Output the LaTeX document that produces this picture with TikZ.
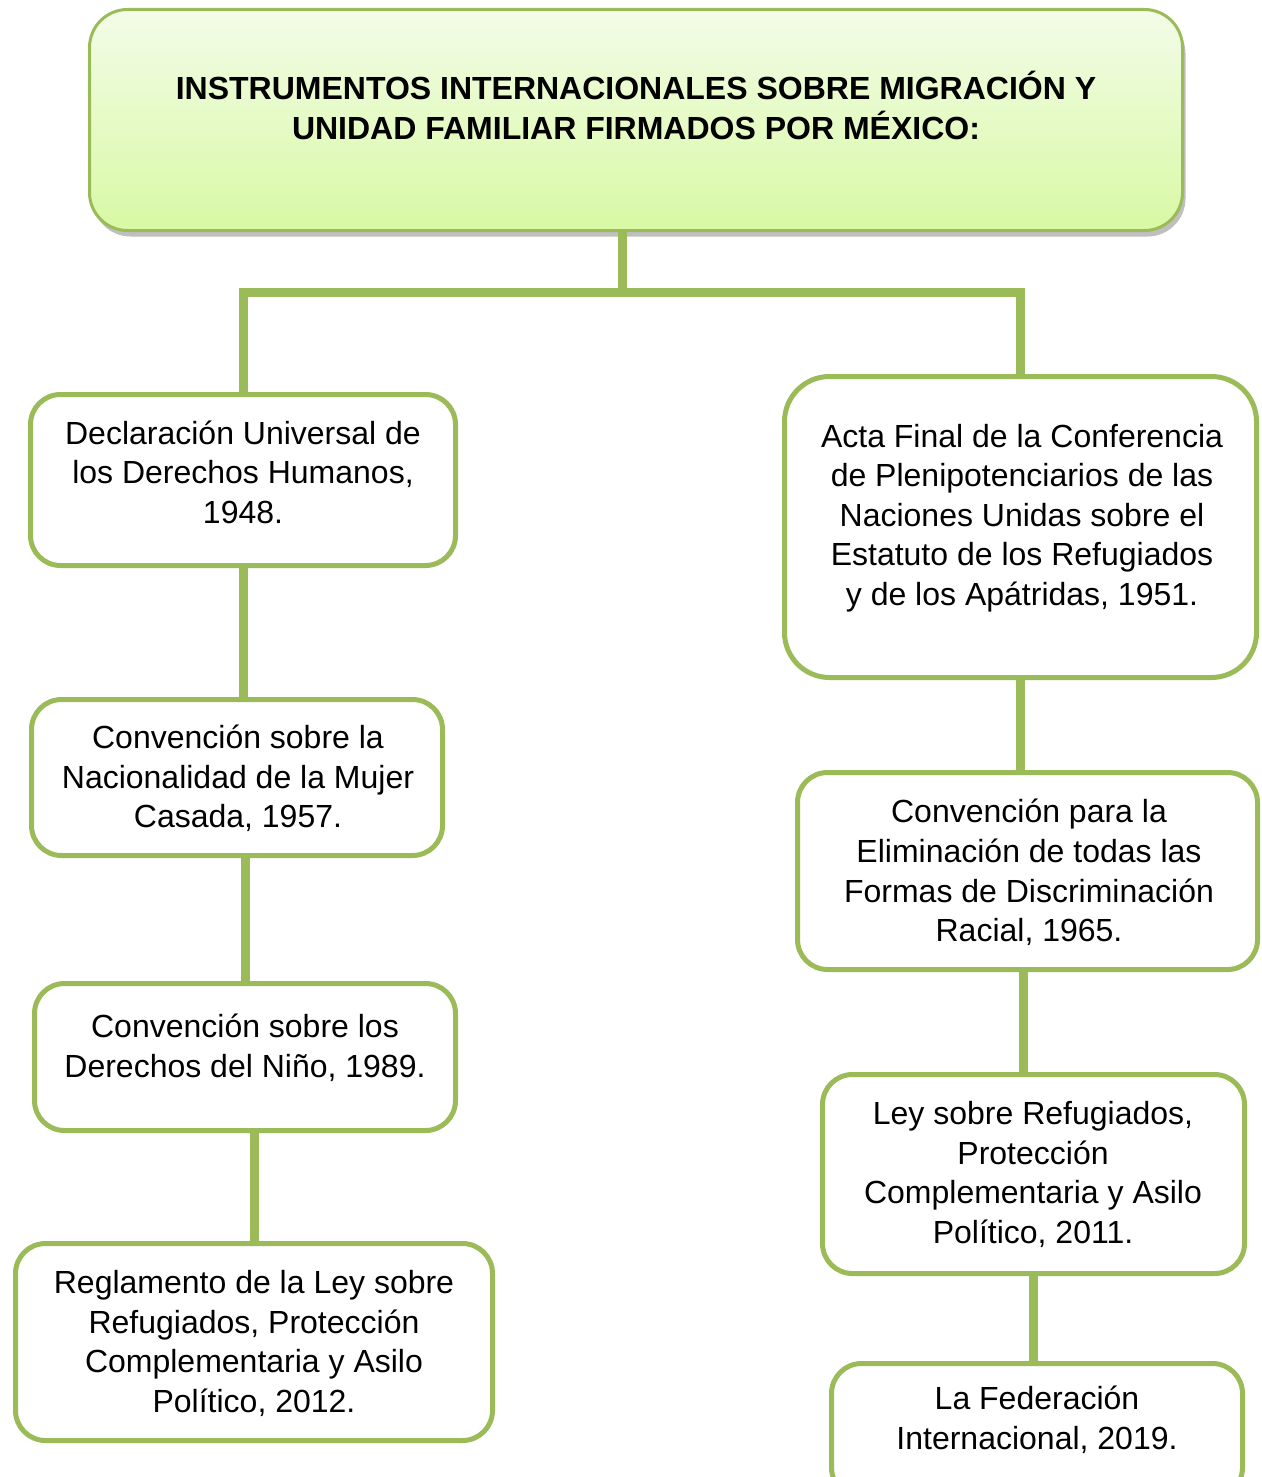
\documentclass[tikz,border=0pt]{standalone}
\usepackage{fontspec}
\setmainfont{Liberation Sans}
\usetikzlibrary{shadows,calc}
\definecolor{gline}{HTML}{9BBB59}
\definecolor{gtop}{HTML}{F3FCE8}
\definecolor{gbot}{HTML}{D8F9A4}
\tikzset{
  box/.style={draw=gline, line width=5pt, rounded corners=30pt, fill=white, inner sep=0pt},
  topbox/.style={draw=gline, line width=3pt, rounded corners=38pt, top color=gtop, bottom color=gbot,
    drop shadow={shadow xshift=3pt, shadow yshift=-6pt, opacity=0.25, fill=black}, inner sep=0pt},
  txt/.style={align=center, font=\fontsize{32}{39.6}\selectfont, inner sep=0pt},
  conn/.style={draw=gline, line width=9pt},
  connshadow/.style={draw=black, opacity=0.15, line width=9pt}
}
\begin{document}
\begin{tikzpicture}[x=1pt,y=-1pt]
\useasboundingbox (0,0) rectangle (1261,1477);
% top box
\node[topbox, minimum width=1093pt, minimum height=221pt] (top) at (636,120) {};
\node[txt, font=\fontsize{32}{40}\selectfont\bfseries] (toptxt) at (636,105.5) {INSTRUMENTOS INTERNACIONALES SOBRE MIGRACIÓN Y\\UNIDAD FAMILIAR FIRMADOS POR MÉXICO:};
% junction
\coordinate (j) at (622,292);
% boxes left
\node[box, minimum width=425pt, minimum height=171pt] (l1) at (243,480) {};
\node[txt] (l1t) at (243,472) {Declaración Universal de\\los Derechos Humanos,\\1948.};
\node[box, minimum width=411pt, minimum height=156pt] (l2) at (237,777.5) {};
\node[txt] (l2t) at (238,778.5) {Convención sobre la\\Nacionalidad de la Mujer\\Casada, 1957.};
\node[box, minimum width=421pt, minimum height=147pt] (l3) at (245,1057) {};
\node[txt] (l3t) at (245,1048) {Convención sobre los\\Derechos del Niño, 1989.};
\node[box, minimum width=477pt, minimum height=197pt] (l4) at (254,1342) {};
\node[txt] (l4t) at (254,1343.5) {Reglamento de la Ley sobre\\Refugiados, Protección\\Complementaria y Asilo\\Político, 2012.};
% boxes right
\node[box, rounded corners=45pt, minimum width=472pt, minimum height=301pt] (r1) at (1020.5,527) {};
\node[txt] (r1t) at (1022,518) {Acta Final de la Conferencia\\de Plenipotenciarios de las\\Naciones Unidas sobre el\\Estatuto de los Refugiados\\y de los Apátridas, 1951.};
\node[box, minimum width=460pt, minimum height=197pt] (r2) at (1027.5,871) {};
\node[txt] (r2t) at (1029,872.5) {Convención para la\\Eliminación de todas las\\Formas de Discriminación\\Racial, 1965.};
\node[box, minimum width=422pt, minimum height=199pt] (r3) at (1033.5,1174) {};
\node[txt] (r3t) at (1033,1174.5) {Ley sobre Refugiados,\\Protección\\Complementaria y Asilo\\Político, 2011.};
\node[box, minimum width=411pt, minimum height=134pt] (r4) at (1037,1430.5) {};
\node[txt] (r4t) at (1037,1419.5) {La Federación\\Internacional, 2019.};
% connector shadows
\begin{scope}[shift={(3,4)}]
\draw[connshadow] (top.south -| j) -- (j);
\draw[connshadow] (l1.north |- j) -- (r1.north |- j);
\end{scope}
% connectors
\draw[conn] (top.south -| j) -- (j);
\draw[conn] (l1.north) -- (l1.north |- j) -- (r1.north |- j) -- (r1.north);
\draw[conn] (l1.south) -- (l1.south |- l2.north);
\draw[conn] (l3.north |- l2.south) -- (l3.north);
\draw[conn] (l4.north |- l3.south) -- (l4.north);
\draw[conn] (r1.south) -- (r1.south |- r2.north);
\draw[conn] ($(r2.south)+(-4,0)$) -- ($(r2.south |- r3.north)+(-4,0)$);
\draw[conn] (r3.south) -- (r3.south |- r4.north);
\end{tikzpicture}
\end{document}
